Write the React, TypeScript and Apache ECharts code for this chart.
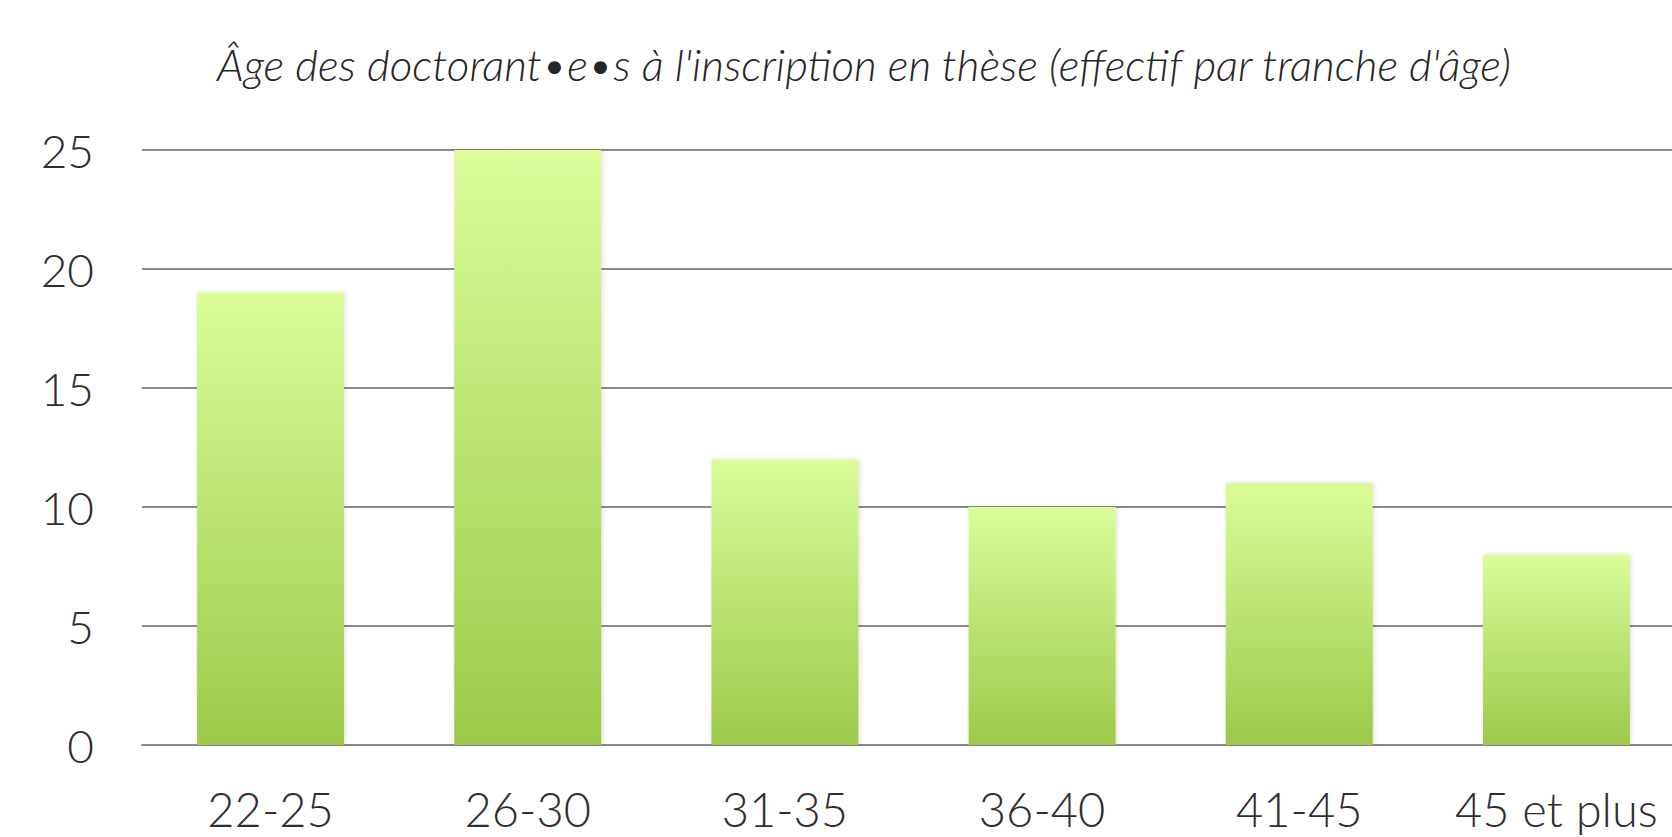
import React, { useEffect, useRef } from "react";
import * as echarts from "echarts";

const titleText = "Âge des doctorant•e•s à l'inscription en thèse (effectif par tranche d'âge)";
const categories = ["22-25", "26-30", "31-35", "36-40", "41-45", "45 et plus"];
const counts = [19, 25, 12, 10, 11, 8];
const yTicks = { min: 0, max: 25, interval: 5 };

export default function App() {
  const ref = useRef<HTMLDivElement>(null);
  useEffect(() => {
    if (!ref.current) return;
    const chart = echarts.init(ref.current, undefined, { renderer: "svg" });
    const font = "Lato, 'Open Sans', sans-serif";
    chart.setOption({
      animation: false,
      backgroundColor: "#ffffff",
      title: {
        text: titleText,
        left: 859,
        top: 37,
        textAlign: "center",
        textStyle: {
          fontFamily: font,
          fontStyle: "italic",
          fontWeight: 300,
          fontSize: 44,
          color: "#262626",
        },
      },
      grid: { left: 142, width: 1543, top: 150, bottom: 92, containLabel: false },
      xAxis: {
        type: "category",
        data: categories,
        axisLine: { show: true, lineStyle: { color: "#8a8a8a", width: 2 } },
        axisTick: { show: false },
        axisLabel: {
          interval: 0,
          fontFamily: font,
          fontWeight: 300,
          fontSize: 47,
          color: "#2e2e2e",
          margin: 40,
        },
      },
      yAxis: {
        type: "value",
        min: yTicks.min,
        max: yTicks.max,
        interval: yTicks.interval,
        axisLine: { show: false },
        axisTick: { show: false },
        splitLine: { show: true, lineStyle: { color: "#8a8a8a", width: 2 } },
        axisLabel: {
          fontFamily: font,
          fontWeight: 300,
          fontSize: 46,
          color: "#2e2e2e",
          margin: 48,
        },
      },
      series: [
        {
          type: "bar",
          data: counts,
          barWidth: 147,
          itemStyle: {
            color: new echarts.graphic.LinearGradient(0, 0, 0, 1, [
              { offset: 0, color: "#dafc9a" },
              { offset: 1, color: "#9dc94a" },
            ]),
            shadowColor: "rgba(0,0,0,0.15)",
            shadowBlur: 4,
            shadowOffsetX: 1,
          },
        },
      ],
    });
    return () => chart.dispose();
  }, []);
  return (
    <div
      ref={ref}
      style={{ position: "fixed", left: 0, top: 0, width: 1700, height: 837, background: "#fff" }}
    />
  );
}
